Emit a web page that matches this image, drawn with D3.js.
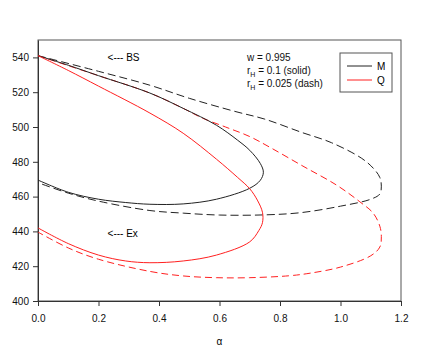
<!DOCTYPE html>
<html>
<head>
<meta charset="utf-8">
<script src="https://cdn.jsdelivr.net/npm/d3@7"></script>
<style>
  body { margin: 0; background: #fff; }
  svg { font-family: "Liberation Sans", Arial, sans-serif; }
</style>
</head>
<body>
<div id="chart"></div>
<script>
// Curve points [alpha, value], each a loop from the BS branch to the Ex branch
const mSolid = [[0,541],[0.1,535.5],[0.2,529.5],[0.37,519.5],[0.48,510.7],[0.59,501],[0.66,492.4],
  [0.70,486.6],[0.735,479],[0.745,474],[0.735,469.4],[0.70,464.8],[0.59,458.5],[0.48,455.8],
  [0.37,455.6],[0.29,456.6],[0.2,458.5],[0.1,462.5],[0,469.5]];
const mDash = [[0,541],[0.2,532],[0.37,524],[0.5,516.5],[0.65,509],[0.75,504.5],[0.87,497],[0.97,491],
  [1.07,482],[1.11,476],[1.13,471],[1.135,466],[1.13,461.5],[1.10,458.5],[1.0,454.5],[0.87,450.8],
  [0.75,449.5],[0.6,449.4],[0.48,450.5],[0.37,452],[0.2,457.4],[0.1,462],[0,468]];
const qSolid = [[0,541],[0.1,532.5],[0.2,523.5],[0.37,508],[0.48,496.4],[0.59,481.5],[0.66,471],
  [0.70,464.5],[0.725,458],[0.742,451],[0.742,445],[0.73,440.5],[0.70,434],[0.59,426.4],[0.48,423],
  [0.37,422],[0.29,423],[0.2,426.4],[0.1,433],[0,442]];
const qDash = [[0,541],[0.2,529.5],[0.37,519.5],[0.48,510.7],[0.545,505],[0.62,500],[0.70,494.5],
  [0.77,488],[0.876,477.5],[0.988,466.5],[1.064,457],[1.108,450.5],[1.13,443],[1.135,437],[1.13,431],
  [1.10,426],[1.0,419.5],[0.9,416],[0.83,414.5],[0.7,413.4],[0.59,413.4],[0.48,414.4],[0.37,417],
  [0.2,424],[0.1,430.5],[0,439.6]];

const xTicks = [0, 0.2, 0.4, 0.6, 0.8, 1.0, 1.2];
const yTicks = [400, 420, 440, 460, 480, 500, 520, 540];
const legendNames = ["M", "Q"];
const legendColors = ["#222", "#ff2020"];

const width = 436, height = 349;
const margin = { top: 40, right: 35, bottom: 48, left: 38 };
const w = width - margin.left - margin.right;
const h = height - margin.top - margin.bottom;

const svg = d3.select("#chart").append("svg")
  .attr("width", width).attr("height", height);
const g = svg.append("g").attr("transform", `translate(${margin.left},${margin.top})`);

const x = d3.scaleLinear().domain([0, 1.2]).range([0, w]);
const y = d3.scaleLinear().domain([400, 550]).range([h, 0]);

// frame
g.append("rect").attr("width", w).attr("height", h)
  .attr("fill", "none").attr("stroke", "#555").attr("stroke-width", 1);

const xAxis = g.append("g").attr("transform", `translate(0,${h})`)
  .call(d3.axisBottom(x).tickValues(xTicks).tickFormat(d3.format(".1f")).tickSize(5).tickSizeOuter(0));
const yAxis = g.append("g")
  .call(d3.axisLeft(y).tickValues(yTicks).tickSize(5).tickSizeOuter(0));
[xAxis, yAxis].forEach(a => {
  a.selectAll("path, line").attr("stroke", "#333");
  a.selectAll("text").attr("font-size", 10).attr("fill", "#111")
    .attr("font-family", "Liberation Sans, Arial, sans-serif");
});
xAxis.selectAll("text").attr("dy", "1.25em");
yAxis.selectAll("text").attr("dx", "-1px");

const line = d3.line().x(d => x(d[0])).y(d => y(d[1])).curve(d3.curveCatmullRom.alpha(0.5));

const curves = [
  { data: mDash, color: legendColors[0], dash: "8,4" },
  { data: qDash, color: legendColors[1], dash: "7,4" },
  { data: mSolid, color: legendColors[0], dash: null },
  { data: qSolid, color: legendColors[1], dash: null }
];
curves.forEach(c => {
  g.append("path").datum(c.data)
    .attr("d", line)
    .attr("fill", "none")
    .attr("stroke", c.color)
    .attr("stroke-width", 1)
    .attr("stroke-dasharray", c.dash);
});

// annotations
g.append("text").attr("x", x(0.23)).attr("y", y(540) + 4)
  .attr("font-size", 10).text("<--- BS");
g.append("text").attr("x", x(0.23)).attr("y", y(439) + 4)
  .attr("font-size", 10).text("<--- Ex");

const note = g.append("g").attr("font-size", 10).attr("fill", "#111");
note.append("text").attr("x", 209).attr("y", 21).text("w = 0.995");
[["0.1 (solid)", 34], ["0.025 (dash)", 47]].forEach(([t, yy]) => {
  const tx = note.append("text").attr("x", 209).attr("y", yy);
  tx.append("tspan").text("r");
  tx.append("tspan").attr("font-size", 7).attr("dy", 3).text("H");
  tx.append("tspan").attr("dy", -3).text(" = " + t);
});

// legend
const lg = g.append("g").attr("transform", "translate(302,13)");
lg.append("rect").attr("width", 52).attr("height", 39)
  .attr("fill", "#fff").attr("stroke", "#555");
legendNames.forEach((n, i) => {
  lg.append("line").attr("x1", 7).attr("x2", 32)
    .attr("y1", 13 + i * 14).attr("y2", 13 + i * 14)
    .attr("stroke", legendColors[i]).attr("stroke-width", 1);
  lg.append("text").attr("x", 37).attr("y", 17 + i * 14)
    .attr("font-size", 10).text(n);
});

// x label
svg.append("text").attr("x", margin.left + x(0.6)).attr("y", 345)
  .attr("text-anchor", "middle").attr("font-size", 10).text("α");
</script>
</body>
</html>
